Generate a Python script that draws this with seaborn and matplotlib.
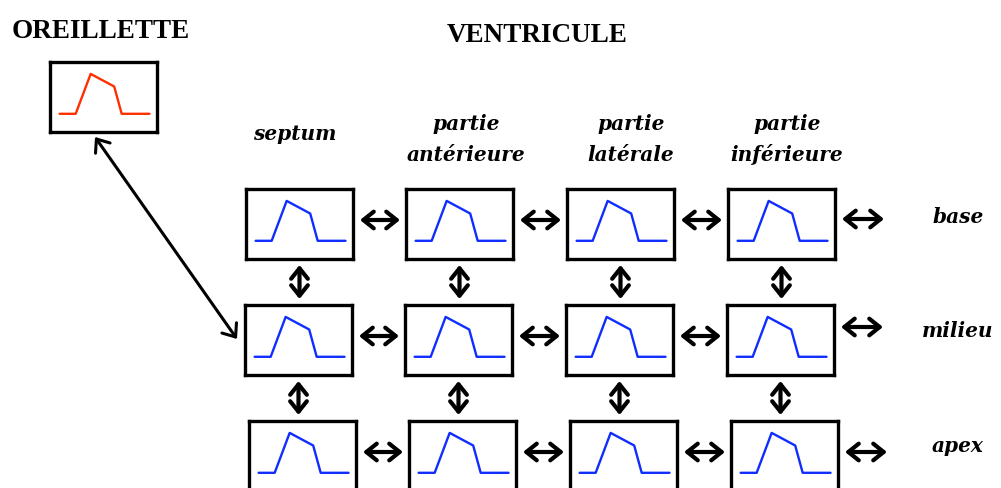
import matplotlib
matplotlib.use("Agg")
import matplotlib.pyplot as plt
import seaborn as sns
from matplotlib.patches import FancyArrowPatch

sns.set_style("white")
plt.rcParams["text.color"] = "black"

W, H = 1001, 489

# waveform drawn in every box (fraction of box width / height)
wave_t = [0.09, 0.24, 0.38, 0.60, 0.67, 0.93]
wave_v = [0.26, 0.26, 0.83, 0.65, 0.26, 0.26]

col_labels = [["septum"], ["partie", "antérieure"], ["partie", "latérale"], ["partie", "inférieure"]]
row_labels = ["base", "milieu", "apex"]
atrium_label = "OREILLETTE"
ventricle_label = "VENTRICULE"

RED = "#ff3000"
BLUE = "#0f2dff"

# layout, in pixels from the top-left corner
BOX_W, BOX_H = 107, 70
col_left = [246, 406, 567, 728]
row_top = [190, 306, 422]
row_shift = [0, -1, 3]
end_arrow_dy = [30, 22, 31]
atrium_box = (50, 63)

fig = plt.figure(figsize=(W / 100, H / 100), dpi=100)
bg = fig.add_axes([0, 0, 1, 1])
bg.set_xlim(0, W)
bg.set_ylim(H, 0)
bg.axis("off")


def trace_box(left, top, color):
    ax = fig.add_axes([left / W, 1 - (top + BOX_H) / H, BOX_W / W, BOX_H / H])
    sns.lineplot(x=wave_t, y=wave_v, ax=ax, color=color, linewidth=1.7)
    ax.set_xlim(0, 1)
    ax.set_ylim(0, 1)
    ax.set_xticks([])
    ax.set_yticks([])
    ax.set_xlabel("")
    ax.set_ylabel("")
    for s in ax.spines.values():
        s.set_visible(True)
        s.set_linewidth(2.4)
        s.set_color("black")
    return ax


def arrow(x0, y0, x1, y1, lw=3.0, scale=15):
    bg.add_patch(FancyArrowPatch(
        (x0, y0), (x1, y1),
        arrowstyle="<->,head_length=0.5,head_width=0.4",
        mutation_scale=scale, lw=lw, color="black",
        shrinkA=0, shrinkB=0))


# atrium
trace_box(atrium_box[0], atrium_box[1], RED)

# ventricle grid
for r, top in enumerate(row_top):
    for c, left in enumerate(col_left):
        x = left + row_shift[r]
        trace_box(x, top, BLUE)
        # horizontal arrow to the right
        if c < len(col_left) - 1:
            arrow(x + BOX_W + 7, top + 31, col_left[c + 1] + row_shift[r] - 6, top + 31)
        else:
            arrow(x + BOX_W + 7, top + end_arrow_dy[r], x + BOX_W + 49, top + end_arrow_dy[r])
        # vertical arrow to the row below
        if r < len(row_top) - 1:
            cx = x + BOX_W / 2
            arrow(cx, top + BOX_H + 6, cx, row_top[r + 1] - 6)

# atrium <-> septum / milieu
arrow(95, 138, 237, 340, lw=2.2, scale=16)

title_font = dict(family="Liberation Serif", fontweight="bold", fontsize=19.5, color="black")
bg.text(12, 38, atrium_label, ha="left", va="baseline", **title_font)
bg.text(537, 42, ventricle_label, ha="center", va="baseline", **title_font)

label_font = dict(family="DejaVu Serif", fontweight="bold", fontstyle="italic",
                  fontsize=14.5, color="black")
col_cx = [295, 466, 631, 787]
for cx, lines in zip(col_cx, col_labels):
    if len(lines) == 1:
        bg.text(cx, 140, lines[0], ha="center", va="baseline", **label_font)
    else:
        bg.text(cx, 130, lines[0], ha="center", va="baseline", **label_font)
        bg.text(cx, 161, lines[1], ha="center", va="baseline", **label_font)

row_base = [223, 337, 452]
for yb, lab in zip(row_base, row_labels):
    bg.text(958, yb, lab, ha="center", va="baseline", **label_font)

fig.savefig("out.png", dpi=100, facecolor="white")
